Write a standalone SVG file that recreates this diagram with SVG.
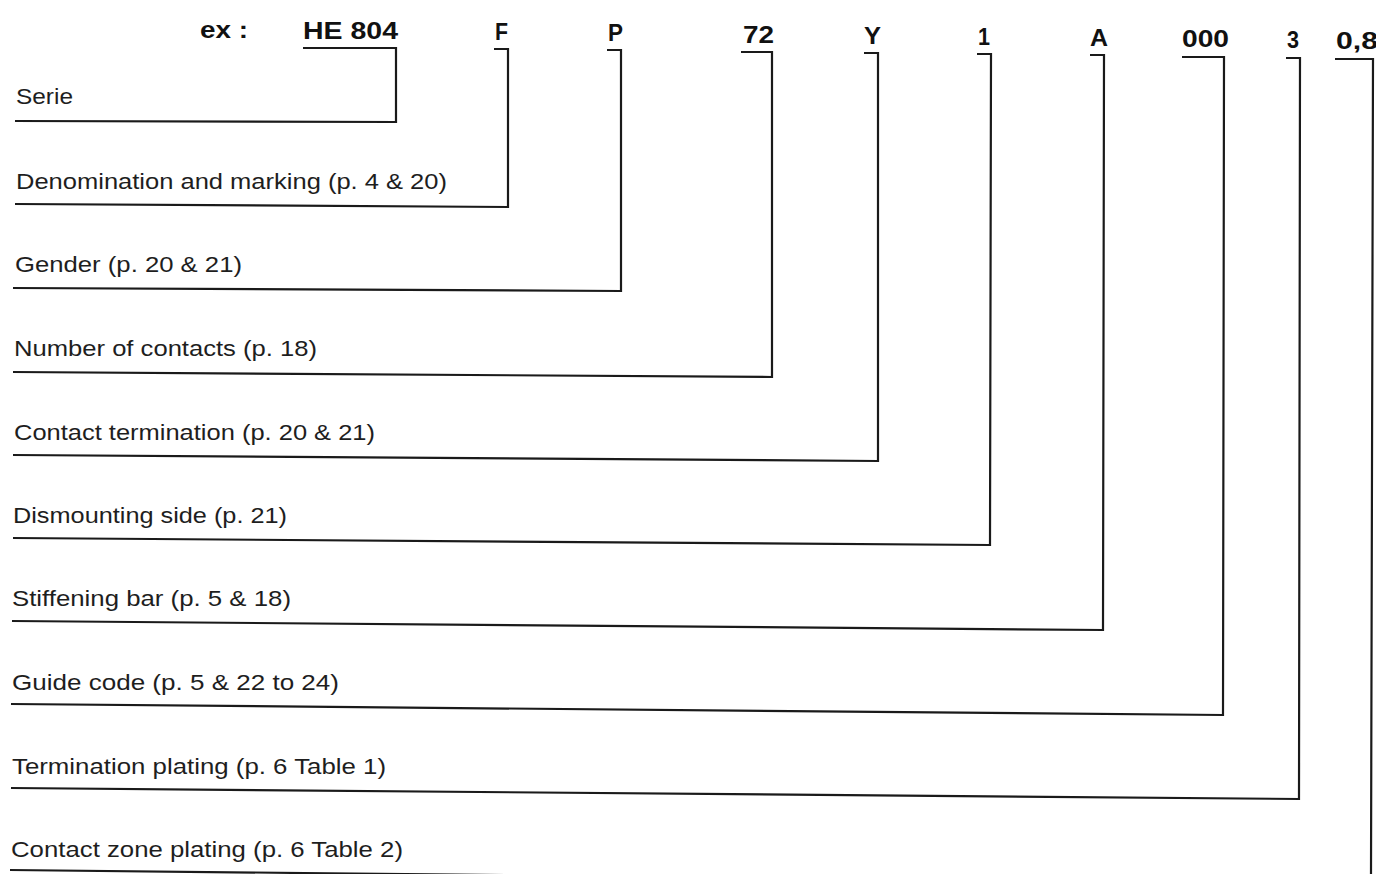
<svg xmlns="http://www.w3.org/2000/svg" width="1376" height="874" viewBox="0 0 1376 874">
<style>
.lbl{font-family:"Liberation Sans",Arial,sans-serif;font-size:22px;fill:#1e1e1e;}
.code{font-family:"Liberation Sans",Arial,sans-serif;font-size:24px;font-weight:bold;fill:#111;}
.conn{fill:none;stroke:#1a1a1a;stroke-width:2.2;stroke-linejoin:miter;}
</style>
<rect width="1376" height="874" fill="#fff"/>
<g id="header">
<text class="code" x="200" y="38" textLength="48" lengthAdjust="spacingAndGlyphs">ex :</text>
<text class="code" x="303" y="39" textLength="95" lengthAdjust="spacingAndGlyphs">HE 804</text>
<text class="code" x="495" y="40" textLength="13" lengthAdjust="spacingAndGlyphs">F</text>
<text class="code" x="608" y="41" textLength="15" lengthAdjust="spacingAndGlyphs">P</text>
<text class="code" x="743" y="43" textLength="31" lengthAdjust="spacingAndGlyphs">72</text>
<text class="code" x="864" y="44" textLength="17" lengthAdjust="spacingAndGlyphs">Y</text>
<text class="code" x="978" y="45" textLength="12" lengthAdjust="spacingAndGlyphs">1</text>
<text class="code" x="1090" y="46" textLength="18" lengthAdjust="spacingAndGlyphs">A</text>
<text class="code" x="1182" y="47" textLength="47" lengthAdjust="spacingAndGlyphs">000</text>
<text class="code" x="1287" y="48" textLength="12" lengthAdjust="spacingAndGlyphs">3</text>
<text class="code" x="1336" y="49" textLength="42" lengthAdjust="spacingAndGlyphs">0,8</text>
</g>
<g id="n-serie"><text class="lbl" x="16" y="104" textLength="57" lengthAdjust="spacingAndGlyphs">Serie</text></g>
<g id="n-denomination"><text class="lbl" x="16" y="189" textLength="431" lengthAdjust="spacingAndGlyphs">Denomination and marking (p. 4 &amp; 20)</text></g>
<g id="n-gender"><text class="lbl" x="15" y="272" textLength="227" lengthAdjust="spacingAndGlyphs">Gender (p. 20 &amp; 21)</text></g>
<g id="n-number"><text class="lbl" x="14" y="356" textLength="303" lengthAdjust="spacingAndGlyphs">Number of contacts (p. 18)</text></g>
<g id="n-termination"><text class="lbl" x="14" y="440" textLength="361" lengthAdjust="spacingAndGlyphs">Contact termination (p. 20 &amp; 21)</text></g>
<g id="n-dismounting"><text class="lbl" x="13" y="523" textLength="274" lengthAdjust="spacingAndGlyphs">Dismounting side (p. 21)</text></g>
<g id="n-stiffening"><text class="lbl" x="12" y="606" textLength="279" lengthAdjust="spacingAndGlyphs">Stiffening bar (p. 5 &amp; 18)</text></g>
<g id="n-guide"><text class="lbl" x="12" y="690" textLength="327" lengthAdjust="spacingAndGlyphs">Guide code (p. 5 &amp; 22 to 24)</text></g>
<g id="n-termplating"><text class="lbl" x="12" y="774" textLength="374" lengthAdjust="spacingAndGlyphs">Termination plating (p. 6 Table 1)</text></g>
<g id="n-contactzone"><text class="lbl" x="11" y="857" textLength="392" lengthAdjust="spacingAndGlyphs">Contact zone plating (p. 6 Table 2)</text></g>
<g id="connectors">
<polyline class="conn" points="303,48 396,48 396,122 15,121"/>
<polyline class="conn" points="494,49 508,49 508,207 15,204"/>
<polyline class="conn" points="607,50 621,50 621,291 13,288"/>
<polyline class="conn" points="741,52 772,52 772,377 13,372"/>
<polyline class="conn" points="864,53 878,53 878,461 13,455"/>
<polyline class="conn" points="977,54 991,54 990,545 13,538"/>
<polyline class="conn" points="1090,55 1104,55 1103,630 12,621"/>
<polyline class="conn" points="1182,57 1224,57 1223,715 11,704"/>
<polyline class="conn" points="1286,58 1300,58 1299,799 11,788"/>
<polyline class="conn" points="1335,59 1373,59 1371,874"/>
<line class="conn" x1="10" y1="870" x2="1371" y2="884"/>
</g>
</svg>
